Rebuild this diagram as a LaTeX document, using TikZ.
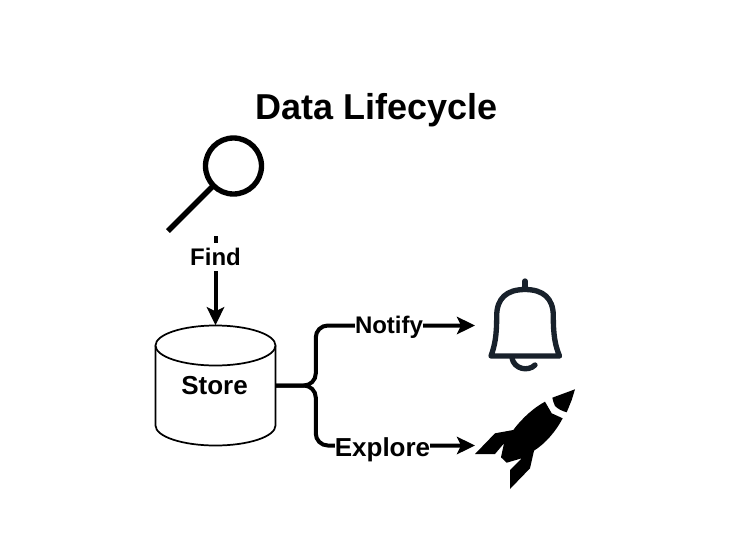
\documentclass[tikz,border=0pt]{standalone}
\usepackage{fontspec}
\setmainfont{Liberation Sans}
\usetikzlibrary{arrows.meta}

\tikzset{
  flow/.style={line width=3pt,rounded corners=9pt,-{Stealth[length=13.5pt,width=13pt,inset=3pt]}},
  lbl/.style={fill=white,inner xsep=0pt,inner ysep=1pt,text height=16.2pt,text depth=3.24pt,font=\bfseries\fontsize{18}{20}\selectfont},
  biglbl/.style={lbl,text height=17.5pt,text depth=3.5pt,font=\bfseries\fontsize{19.5}{22}\selectfont},
  icon/.style={line width=4pt}
}
\definecolor{bellink}{HTML}{18212B}

\begin{document}
\begin{tikzpicture}[x=0.75pt,y=-0.75pt]

\useasboundingbox (0,0) rectangle (751,551);

% Title
\node (title) at (376.5,110) {\bfseries\fontsize{27}{30}\selectfont Data Lifecycle};

% Store cylinder
\node[minimum width=90pt,minimum height=90pt,inner sep=0pt] (store) at (215.5,385.5) {};
\draw[line width=1.3pt,fill=white] (155.5,345.5) -- (155.5,425.5)
  arc[start angle=180,end angle=0,x radius=60,y radius=20] -- (275.5,345.5);
\draw[line width=1.3pt,fill=white] (215.5,345.5) ellipse[x radius=60,y radius=20];
\node[biglbl,fill=none] (storelabel) at (214.5,385) {Store};

% Free ends of the connectors
\coordinate (findstart) at (215.5,236);
\coordinate (bellend) at (475,325.5);
\coordinate (rocketend) at (475,445.5);

% Connectors
\draw[flow] (findstart) -- (store.north);
\draw[flow] (store.east) -- ++(40,0) |- (bellend);
\draw[flow] (store.east) -- ++(40,0) |- (rocketend);

% Labels on the connectors
\node[lbl] (find) at (215.5,257) {Find};
\node[lbl] (notify) at (389,325) {Notify};
\node[biglbl] (explore) at (382.5,447) {Explore};

% Magnifier
\draw[icon] (233.5,166) circle[radius=28];
\draw[icon] (212,187) -- (168,231);

% Bell
\draw[icon,bellink,line join=round,line cap=round] (491,356) -- (559.5,356)
  .. controls (555,345) and (553.3,335) .. (553.3,316)
  .. controls (553.3,298) and (543,289.5) .. (525,289.5)
  .. controls (507,289.5) and (496.7,298) .. (496.7,316)
  .. controls (496.7,335) and (495,345) .. cycle;
\draw[icon,bellink,line cap=round] (525,288) -- (525,281);
\draw[icon,bellink,line cap=round] (512,358) .. controls (514,369) and (528,372) .. (535,365);

% Rocket
\fill (545,401.7) .. controls (535,407) and (523,417) .. (513.3,430) -- (495,433.3) -- (475,454)
  -- (495,454) -- (504,443.3) -- (501,457.3) -- (506.7,462.7) -- (521.7,458.3) -- (510,470)
  -- (510,489) -- (530,468.3) -- (534,450.7) .. controls (546,443) and (556,431) .. (562.7,418.3)
  -- (551.7,413.3) -- cycle;
\fill (575,389.3) -- (552.3,397.7) .. controls (553,401) and (554,404) .. (555,406)
  .. controls (558,409) and (562,411) .. (566.7,412.3) -- (571.7,400) -- cycle;

\end{tikzpicture}
\end{document}
